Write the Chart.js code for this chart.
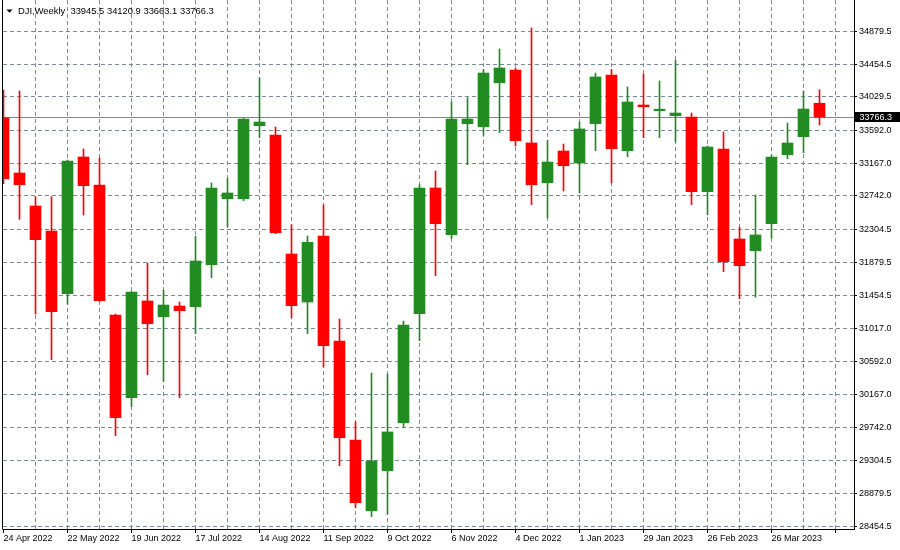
<!DOCTYPE html>
<html>
<head>
<meta charset="utf-8">
<script src="https://cdn.jsdelivr.net/npm/chart.js@4/dist/chart.umd.min.js"></script>
<style>
html,body{margin:0;padding:0;background:#ffffff;}
canvas{display:block;}
</style>
</head>
<body>
<canvas id="c" width="900" height="550"></canvas>
<script>
// ---- data (weekly candles, first week = 24 Apr 2022) ----
const symbol = 'DJI';
const timeframe = 'Weekly';
const opens  = [33758, 33040, 32612, 32288, 31474, 33248, 32885, 31197, 30124, 31379,
                31175, 31314, 31305, 31850, 32707, 32707, 33654, 33534, 31989, 31366,
                32223, 30860, 29575, 28657, 29176, 29799, 31213, 32846, 32240, 33680,
                33641, 34212, 34377, 33430, 32915, 33326, 33170, 33680, 34312, 33330,
                33923, 33849, 33784, 33767, 32798, 33352, 32184, 32032, 32382, 33278,
                33512, 33945.5];
const highs  = [34118, 34105, 32733, 32733, 33209, 33352, 33235, 31210, 31502, 31872,
                31518, 31366, 32219, 32911, 32969, 33748, 34274, 33637, 32369, 32223,
                32625, 31145, 29808, 30444, 30431, 31119, 32889, 33066, 33962, 34018,
                34386, 34650, 34403, 34923, 33465, 33417, 33702, 34338, 34386, 34157,
                34325, 34235, 34503, 33819, 33391, 33573, 32339, 32755, 33274, 33689,
                34105, 34120.9];
const lows   = [32902, 32439, 31210, 30617, 31336, 32495, 31372, 29631, 30007, 30423,
                30332, 30124, 30955, 31681, 32343, 32681, 33499, 32252, 31162, 30955,
                30526, 29241, 28696, 28579, 28615, 29740, 30864, 31707, 32190, 33148,
                33530, 33563, 33391, 32629, 32456, 32807, 32781, 33330, 32911, 33252,
                33499, 33499, 33443, 32629, 32499, 31759, 31409, 31427, 32193, 33226,
                33304, 33663.1];
const closes = [32966, 32889, 32175, 31240, 33196, 32876, 31383, 29864, 31496, 31084,
                31327, 31253, 31898, 32846, 32781, 33741, 33702, 32265, 31318, 32141,
                30799, 29605, 28761, 29303, 29679, 31067, 32846, 32382, 33741, 33741,
                34338, 34403, 33460, 32889, 33183, 33135, 33612, 34287, 33356, 33962,
                33901, 33858, 33819, 32798, 33378, 31889, 31837, 32236, 33248, 33430,
                33871, 33766.3];
// one label every 4 weeks
const xTickLabels = ['24 Apr 2022', '22 May 2022', '19 Jun 2022', '17 Jul 2022', '14 Aug 2022',
                     '11 Sep 2022', '9 Oct 2022', '6 Nov 2022', '4 Dec 2022', '1 Jan 2023',
                     '29 Jan 2023', '26 Feb 2023', '26 Mar 2023'];
const yTickValues = [28454.5, 28879.5, 29304.5, 29742.0, 30167.0, 30592.0, 31017.0, 31454.5,
                     31879.5, 32304.5, 32742.0, 33167.0, 33592.0, 34029.5, 34454.5, 34879.5];

// ---- styling ----
const UP = '#228B22', DOWN = '#FF0000', GRID = '#778899';
const FONT = {family: "'Liberation Sans', Arial, sans-serif", size: 9};
const lastPrice = closes[closes.length - 1];

const colors = closes.map((c, i) => c >= opens[i] ? UP : DOWN);
const bodies = opens.map((o, i) => ({x: i, y: [o, closes[i]]}));
const wicks  = lows.map((l, i) => ({x: i, y: [l, highs[i]]}));

const overlay = {
  id: 'overlay',
  beforeDatasetsDraw(chart) {
    const {ctx, chartArea: a, scales: {y}} = chart;
    const py = Math.round(y.getPixelForValue(lastPrice)) + 0.5;
    ctx.save();
    ctx.strokeStyle = GRID; ctx.lineWidth = 1;
    ctx.beginPath(); ctx.moveTo(a.left, py); ctx.lineTo(a.right, py); ctx.stroke();
    ctx.restore();
  },
  afterDraw(chart) {
    const {ctx, chartArea: a, scales: {y}} = chart;
    ctx.save();
    // left frame line
    ctx.strokeStyle = '#000'; ctx.lineWidth = 1;
    ctx.beginPath(); ctx.moveTo(a.left - 0.5, a.top); ctx.lineTo(a.left - 0.5, a.bottom + 0.5); ctx.stroke();
    // current price label
    const py = Math.round(y.getPixelForValue(lastPrice)) + 0.5;
    ctx.fillStyle = '#000';
    ctx.fillRect(a.right + 1, py - 5.5, 900 - a.right - 1, 10);
    ctx.fillStyle = '#fff';
    ctx.font = `${FONT.size}px ${FONT.family}`;
    ctx.textBaseline = 'middle'; ctx.textAlign = 'left';
    ctx.fillText(lastPrice.toFixed(1), a.right + 5.5, py);
    // title
    ctx.fillStyle = '#000';
    ctx.font = `9.4px ${FONT.family}`;
    ctx.beginPath(); ctx.moveTo(6.5, 9.5); ctx.lineTo(12.5, 9.5); ctx.lineTo(9.5, 12.8); ctx.closePath(); ctx.fill();
    const n = opens.length - 1;
    const title = `${symbol},${timeframe}  ${opens[n].toFixed(1)} ${highs[n].toFixed(1)} ${lows[n].toFixed(1)} ${closes[n].toFixed(1)}`;
    ctx.fillText(title, 18, 11);
    ctx.restore();
  }
};

new Chart(document.getElementById('c'), {
  type: 'bar',
  data: {
    datasets: [
      {data: bodies, backgroundColor: colors, barThickness: 11, minBarLength: 1.5, grouped: false, borderWidth: 0},
      {data: wicks, backgroundColor: colors, barThickness: 1, grouped: false, borderWidth: 0}
    ]
  },
  options: {
    responsive: false,
    animation: false,
    devicePixelRatio: 1,
    layout: {padding: {left: 3, top: 0, right: 0, bottom: 0}},
    plugins: {legend: {display: false}, tooltip: {enabled: false}, title: {display: false}},
    scales: {
      x: {
        type: 'linear',
        position: 'bottom',
        offset: false,
        min: -1 / 32,
        max: -1 / 32 + 851 / 16,
        afterBuildTicks: s => {
          const t = [];
          for (let v = 0; v <= opens.length; v += 2) t.push({value: v});
          s.ticks = t;
        },
        afterFit: s => { s.height = 21; s.paddingLeft = 0; s.paddingRight = 0; },
        ticks: {
          autoSkip: false, maxRotation: 0, minRotation: 0, align: 'start', padding: 0,
          color: '#000', font: FONT,
          callback: v => (v % 4 === 0 && xTickLabels[v / 4] !== undefined) ? xTickLabels[v / 4] : ''
        },
        grid: {
          offset: false,
          color: c => (c.tick && c.tick.value === 0) ? 'rgba(0,0,0,0)' : GRID,
          tickColor: c => (c.tick && c.tick.value % 4 === 0) ? '#000' : 'rgba(0,0,0,0)',
          tickLength: 4, lineWidth: 1
        },
        border: {display: true, color: '#000', width: 1, dash: [4, 3]}
      },
      y: {
        type: 'linear',
        position: 'right',
        min: 28419.5,
        max: 35285.8,
        afterBuildTicks: s => { s.ticks = yTickValues.map(v => ({value: v})); },
        afterFit: s => { s.width = 46; s.paddingTop = 0; s.paddingBottom = 0; },
        ticks: {color: '#000', padding: 2, font: FONT, callback: v => Number(v).toFixed(1)},
        grid: {color: GRID, tickColor: '#000', tickLength: 3, lineWidth: 1},
        border: {display: true, color: '#000', width: 1, dash: [4, 3]}
      }
    }
  },
  plugins: [overlay]
});
</script>
</body>
</html>
